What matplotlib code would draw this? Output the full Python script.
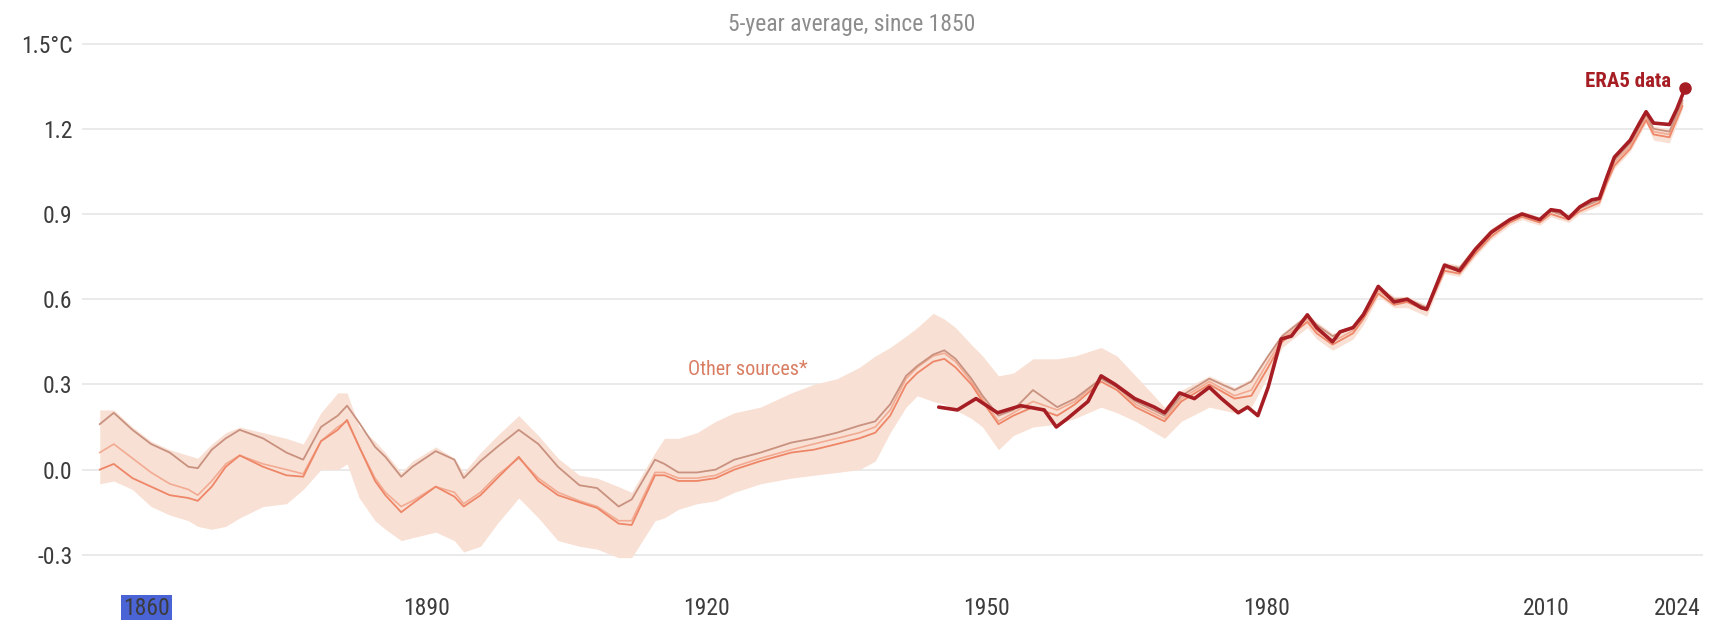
import matplotlib.pyplot as plt
import numpy as np
from matplotlib import font_manager

# pick a condensed face if one is installed
names = set(f.name for f in font_manager.fontManager.ttflist)
face = 'Roboto'
for cand in ['Roboto Condensed', 'Liberation Sans Narrow', 'Roboto']:
    if cand in names:
        face = cand
        break
plt.rcParams['font.family'] = [face, 'DejaVu Sans']

# Other sources: three datasets plus their spread (5-year average, °C)
years = [1855.0, 1856.5, 1858.5, 1860.5, 1862.5, 1864.5, 1865.5, 1867.0, 1868.5, 1870.0,
         1872.5, 1875.0, 1876.8, 1878.7, 1880.5, 1881.5, 1882.8, 1884.5, 1885.6, 1887.3,
         1888.5, 1891.0, 1893.0, 1894.0, 1895.8, 1897.6, 1899.9, 1902.0, 1904.1, 1906.4,
         1908.3, 1910.6, 1912.0, 1914.5, 1915.5, 1917.0, 1919.0, 1921.0, 1923.0, 1925.8,
         1929.1, 1931.5, 1934.0, 1936.4, 1938.1, 1939.7, 1941.4, 1942.6, 1944.3, 1945.5,
         1946.7, 1948.4, 1949.6, 1951.3, 1952.9, 1955.0, 1957.6, 1959.5, 1962.3, 1964.0,
         1966.0, 1969.1, 1970.9, 1973.9, 1976.6, 1978.4, 1980.2, 1981.7, 1984.4, 1985.4,
         1987.1, 1989.3, 1990.4, 1992.0, 1993.7, 1995.1, 1997.2, 1999.1, 2000.7, 2002.4,
         2004.1, 2006.1, 2007.4, 2009.3, 2010.5, 2012.4, 2013.6, 2015.7, 2016.5, 2017.3,
         2019.0, 2020.7, 2021.5, 2023.2, 2024.6]

src_a = [0.16, 0.20, 0.14, 0.09, 0.06, 0.01, 0.005, 0.07, 0.11, 0.14,
         0.11, 0.06, 0.035, 0.15, 0.19, 0.225, 0.165, 0.08, 0.045, -0.025,
         0.01, 0.065, 0.035, -0.03, 0.03, 0.08, 0.14, 0.09, 0.01, -0.055,
         -0.065, -0.13, -0.105, 0.035, 0.02, -0.01, -0.01, 0.0, 0.035, 0.06,
         0.095, 0.11, 0.13, 0.155, 0.17, 0.23, 0.33, 0.365, 0.405, 0.42,
         0.39, 0.32, 0.26, 0.19, 0.21, 0.28, 0.22, 0.25, 0.32, 0.29,
         0.24, 0.19, 0.26, 0.32, 0.28, 0.31, 0.40, 0.47, 0.54, 0.51,
         0.47, 0.50, 0.55, 0.64, 0.60, 0.60, 0.57, 0.72, 0.71, 0.78,
         0.84, 0.88, 0.90, 0.88, 0.91, 0.89, 0.92, 0.95, 1.03, 1.09,
         1.15, 1.25, 1.20, 1.19, 1.30]

src_b = [0.06, 0.09, 0.04, -0.01, -0.05, -0.07, -0.09, -0.04, 0.02, 0.05,
         0.02, 0.0, -0.015, 0.10, 0.15, 0.17, 0.08, -0.03, -0.08, -0.13,
         -0.11, -0.06, -0.08, -0.12, -0.08, -0.02, 0.04, -0.03, -0.08, -0.11,
         -0.13, -0.18, -0.18, -0.01, -0.01, -0.03, -0.03, -0.02, 0.01, 0.04,
         0.07, 0.09, 0.11, 0.13, 0.15, 0.21, 0.32, 0.36, 0.40, 0.41,
         0.38, 0.31, 0.25, 0.17, 0.20, 0.24, 0.21, 0.24, 0.32, 0.29,
         0.23, 0.18, 0.25, 0.31, 0.26, 0.28, 0.38, 0.46, 0.53, 0.49,
         0.45, 0.49, 0.54, 0.63, 0.59, 0.59, 0.56, 0.71, 0.70, 0.77,
         0.83, 0.88, 0.90, 0.88, 0.91, 0.89, 0.92, 0.95, 1.02, 1.08,
         1.14, 1.24, 1.19, 1.18, 1.29]

src_c = [0.00, 0.02, -0.03, -0.06, -0.09, -0.10, -0.11, -0.06, 0.01, 0.05,
         0.01, -0.02, -0.025, 0.10, 0.14, 0.175, 0.08, -0.04, -0.09, -0.15,
         -0.12, -0.06, -0.095, -0.13, -0.09, -0.03, 0.045, -0.04, -0.09, -0.115,
         -0.135, -0.19, -0.195, -0.02, -0.02, -0.04, -0.04, -0.03, 0.0, 0.03,
         0.06, 0.07, 0.09, 0.11, 0.13, 0.19, 0.30, 0.34, 0.38, 0.39,
         0.36, 0.30, 0.24, 0.16, 0.19, 0.22, 0.19, 0.23, 0.31, 0.28,
         0.22, 0.17, 0.24, 0.30, 0.25, 0.26, 0.36, 0.45, 0.52, 0.48,
         0.44, 0.48, 0.53, 0.62, 0.58, 0.59, 0.56, 0.70, 0.69, 0.76,
         0.82, 0.87, 0.89, 0.87, 0.90, 0.88, 0.91, 0.94, 1.01, 1.07,
         1.13, 1.23, 1.18, 1.17, 1.28]

band_lo = [-0.05, -0.04, -0.07, -0.13, -0.16, -0.18, -0.20, -0.21, -0.20, -0.17,
           -0.13, -0.12, -0.07, 0.0, 0.0, 0.02, -0.10, -0.18, -0.21, -0.25,
           -0.24, -0.22, -0.25, -0.29, -0.27, -0.19, -0.10, -0.17, -0.25, -0.27,
           -0.28, -0.31, -0.31, -0.18, -0.17, -0.14, -0.12, -0.11, -0.08, -0.05,
           -0.03, -0.02, -0.01, 0.0, 0.03, 0.13, 0.22, 0.26, 0.24, 0.23,
           0.21, 0.18, 0.15, 0.07, 0.12, 0.15, 0.16, 0.18, 0.22, 0.20,
           0.17, 0.11, 0.17, 0.22, 0.20, 0.22, 0.33, 0.43, 0.50, 0.46,
           0.42, 0.46, 0.51, 0.61, 0.57, 0.57, 0.54, 0.69, 0.68, 0.75,
           0.81, 0.86, 0.88, 0.86, 0.89, 0.87, 0.90, 0.93, 1.00, 1.06,
           1.12, 1.22, 1.16, 1.15, 1.27]

band_hi = [0.21, 0.21, 0.15, 0.10, 0.07, 0.05, 0.04, 0.09, 0.13, 0.15,
           0.13, 0.11, 0.09, 0.20, 0.27, 0.27, 0.15, 0.10, 0.06, -0.01,
           0.03, 0.08, 0.04, -0.01, 0.06, 0.12, 0.19, 0.12, 0.04, -0.02,
           -0.03, -0.06, -0.08, 0.06, 0.11, 0.11, 0.13, 0.17, 0.20, 0.22,
           0.27, 0.30, 0.32, 0.36, 0.40, 0.43, 0.47, 0.50, 0.55, 0.53,
           0.50, 0.44, 0.40, 0.33, 0.34, 0.39, 0.39, 0.40, 0.43, 0.40,
           0.33, 0.22, 0.28, 0.33, 0.29, 0.32, 0.41, 0.48, 0.55, 0.52,
           0.48, 0.51, 0.56, 0.65, 0.61, 0.61, 0.58, 0.73, 0.72, 0.79,
           0.85, 0.89, 0.91, 0.89, 0.92, 0.90, 0.93, 0.96, 1.04, 1.10,
           1.16, 1.26, 1.21, 1.20, 1.31]

# ERA5
era_years = [1944.9, 1946.9, 1948.9, 1951.2, 1953.7, 1956.2, 1957.5, 1958.7, 1960.9, 1962.3,
             1963.8, 1965.9, 1968.0, 1969.1, 1970.7, 1972.3, 1973.9, 1975.2, 1977.0, 1978.0,
             1979.1, 1980.2, 1981.6, 1982.7, 1984.4, 1985.4, 1987.1, 1987.9, 1989.3, 1990.4,
             1992.0, 1993.7, 1995.1, 1996.6, 1997.2, 1999.1, 2000.7, 2002.4, 2004.1, 2006.1,
             2007.4, 2009.3, 2010.5, 2011.5, 2012.4, 2013.6, 2014.9, 2015.7, 2016.5, 2017.3,
             2019.0, 2020.0, 2020.7, 2021.5, 2023.2, 2024.0, 2024.9]
era_vals = [0.22, 0.21, 0.25, 0.20, 0.225, 0.21, 0.15, 0.18, 0.24, 0.33,
            0.30, 0.25, 0.22, 0.20, 0.27, 0.25, 0.29, 0.25, 0.20, 0.22,
            0.19, 0.29, 0.46, 0.47, 0.545, 0.50, 0.45, 0.485, 0.50, 0.545,
            0.645, 0.59, 0.60, 0.57, 0.565, 0.72, 0.70, 0.775, 0.835, 0.88,
            0.90, 0.88, 0.915, 0.91, 0.885, 0.925, 0.95, 0.955, 1.03, 1.10,
            1.16, 1.22, 1.26, 1.22, 1.215, 1.27, 1.345]

xticks = [1860, 1890, 1920, 1950, 1980, 2010, 2024]
yticks = [-0.3, 0.0, 0.3, 0.6, 0.9, 1.2, 1.5]
ylabels = ['-0.3', '0.0', '0.3', '0.6', '0.9', '1.2', '1.5°C']

fig = plt.figure(figsize=(17.09, 6.2), dpi=100)
ax = fig.add_axes([0.048, 0.0726, 0.9485, 0.8709])

ax.fill_between(years, band_lo, band_hi, color='#f9e0d4', lw=0, zorder=1)
ax.plot(years, src_b, color='#f2ab92', lw=1.2, zorder=2)
ax.plot(years, src_a, color='#c9917f', lw=1.3, zorder=3)
ax.plot(years, src_c, color='#ee8668', lw=1.3, zorder=3)
ax.plot(era_years, era_vals, color='#a61e24', lw=2.6, zorder=5,
        solid_capstyle='round', solid_joinstyle='round')
ax.plot(era_years[-1], era_vals[-1], 'o', color='#a61e24', ms=8, zorder=6)

ax.text(2023.4, 1.365, 'ERA5 data', color='#a61e24', fontsize=15,
        fontweight='bold', ha='right', va='center')
ax.text(1924.4, 0.351, 'Other sources*', color='#d97d62', fontsize=14.5,
        ha='center', va='center')

fig.text(0.4985, 0.961, '5-year average, since 1850', color='#8c8c8c',
         fontsize=17, ha='center', va='center')

ax.set_xlim(1853.1, 2026.8)
ax.set_ylim(-0.371, 1.530)
ax.set_xticks(xticks)
ax.set_xticklabels([str(t) for t in xticks])
ax.set_yticks(yticks)
ax.set_yticklabels(ylabels)
ax.tick_params(length=0, labelsize=17, colors='#3c3c3c')
ax.tick_params(axis='x', pad=16)
ax.tick_params(axis='y', pad=7)
ax.yaxis.grid(True, color='#e6e6e6', lw=1.2, zorder=0)
ax.set_axisbelow(True)
for s in ax.spines.values():
    s.set_visible(False)

# the 1860 label is highlighted in the source image
lab = ax.get_xticklabels()[0]
lab.set_bbox(dict(facecolor='#4a64d6', edgecolor='none', pad=1.5))

fig.savefig('out.png', dpi=100)
